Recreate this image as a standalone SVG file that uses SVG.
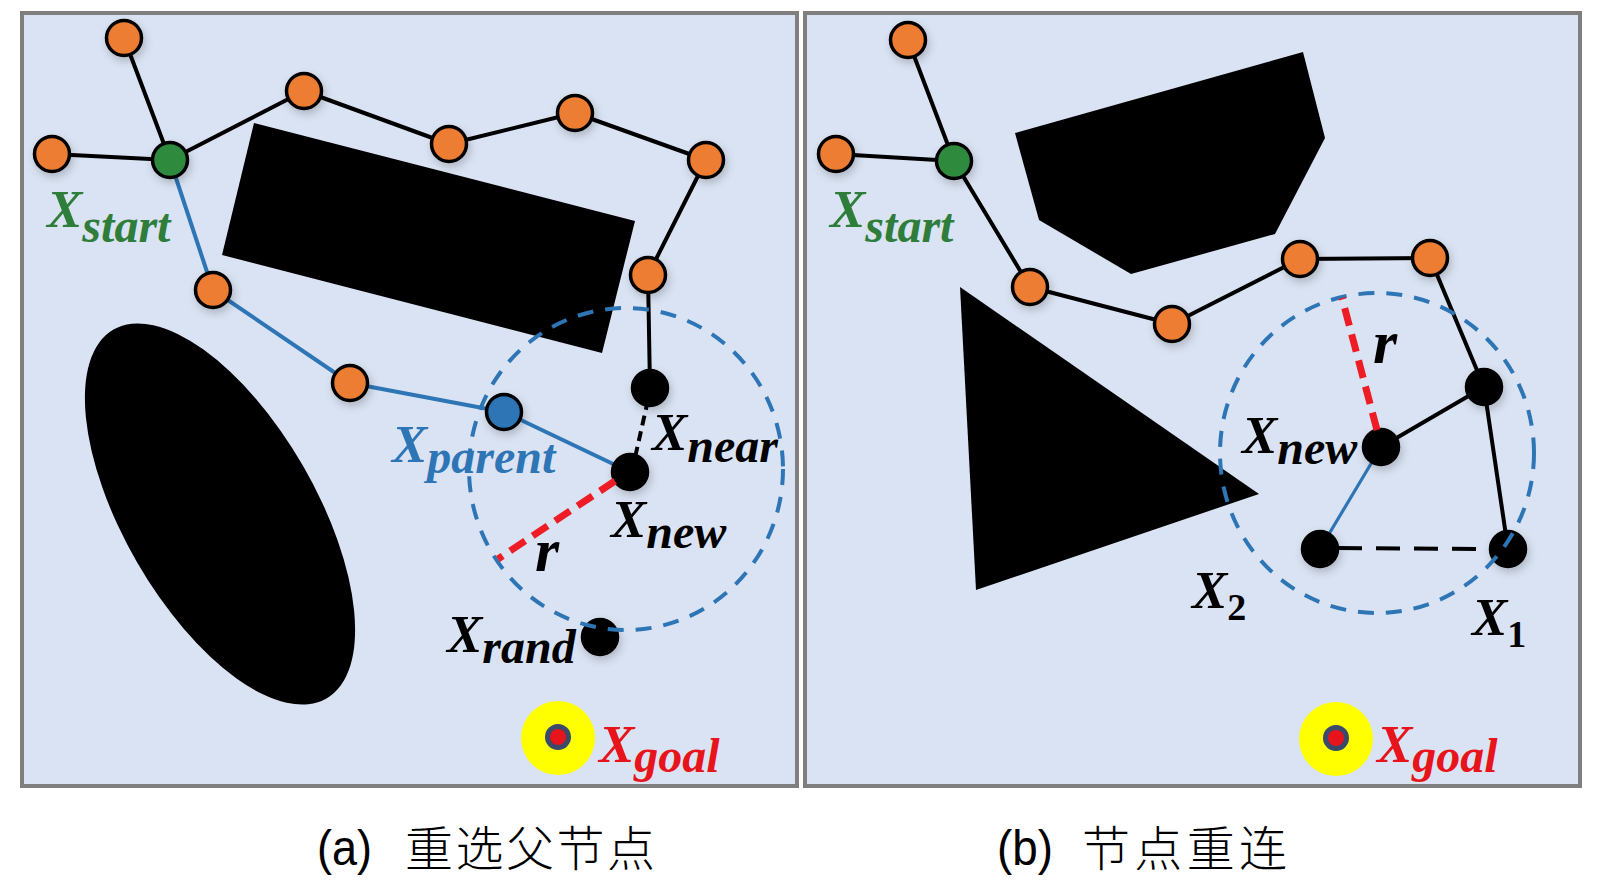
<svg xmlns="http://www.w3.org/2000/svg" width="1600" height="891" viewBox="0 0 1600 891">
<defs>
<filter id="sh" x="-60%" y="-60%" width="220%" height="220%"><feDropShadow dx="2" dy="4" stdDeviation="4" flood-color="#000" flood-opacity="0.2"/></filter>
</defs>
<style>
.frame{fill:#dae3f3;stroke:#7f7f7f;stroke-width:4}
.obs{fill:#000}
.e{stroke:#000;stroke-width:4;fill:none;stroke-linecap:round}
.eb{stroke:#2e75b6;stroke-width:4;fill:none}
.eb2{stroke:#2e75b6;stroke-width:3.2;fill:none}
.ed{stroke:#000;stroke-width:4;stroke-dasharray:10 6;fill:none}
.ed2{stroke:#000;stroke-width:4;stroke-dasharray:24 14;fill:none}
.red{stroke:#ee1c24;stroke-width:7;stroke-dasharray:18 9;fill:none}
.circ{fill:none;stroke:#2e75b6;stroke-width:4;stroke-dasharray:16 12}
.n{stroke:#000;stroke-width:3.5;filter:url(#sh)}
.or{fill:#ed7d31}
.gr{fill:#2e8b3e}
.bl{fill:#2e75b6}
.bk{fill:#000}
.m{font-family:"Liberation Serif",serif;font-style:italic;font-weight:bold;font-size:53px}
.s{font-size:48px}
.d{font-style:normal;font-size:38px}
.rr{font-size:62px}
.cg{fill:#2e7d3a}
.cb{fill:#2e75b6}
.cr{fill:#e8141c}
.ck{fill:#000}
.cap{font-family:"Liberation Sans",sans-serif;font-size:50px;fill:#000}
.zh{font-family:"Noto Sans CJK SC",sans-serif;font-size:48px;font-weight:300;fill:#000}
</style>

<rect fill="#ffffff" x="0" y="0" width="1600" height="891"/>

<g id="panel-a-frame"><rect class="frame" x="22" y="13" width="775" height="773"/></g>
<g id="panel-b-frame"><rect class="frame" x="805" y="13" width="775" height="773"/></g>

<g id="obstacles-a">
<polygon class="obs" points="254,123 635,221 602,353 222,255"/>
<ellipse class="obs" cx="220" cy="514" rx="213" ry="96" transform="rotate(60 220 514)"/>
</g>
<g id="obstacles-b">
<polygon class="obs" points="1015,133 1303,52 1325,138 1275,234 1131,274 1039,220"/>
<polygon class="obs" points="960,287 1259,494 976,590"/>
</g>

<g id="connectors">
<line class="e" x1="124" y1="38" x2="170" y2="160"/>
<line class="e" x1="52" y1="154" x2="170" y2="160"/>
<line class="e" x1="170" y1="160" x2="304" y2="91"/>
<line class="e" x1="304" y1="91" x2="449" y2="144"/>
<line class="e" x1="449" y1="144" x2="575" y2="113"/>
<line class="e" x1="575" y1="113" x2="706" y2="160"/>
<line class="e" x1="706" y1="160" x2="648" y2="275"/>
<line class="e" x1="648" y1="275" x2="650" y2="388"/>
<line class="ed" x1="648" y1="400" x2="634" y2="462"/>
<line class="eb" x1="170" y1="160" x2="213" y2="290"/>
<line class="eb" x1="213" y1="290" x2="350" y2="383"/>
<line class="eb" x1="350" y1="383" x2="504" y2="412"/>
<line class="eb" x1="504" y1="412" x2="630" y2="472"/>

<line class="e" x1="908" y1="40" x2="954" y2="161"/>
<line class="e" x1="836" y1="154" x2="954" y2="161"/>
<line class="e" x1="954" y1="161" x2="1030" y2="287"/>
<line class="e" x1="1030" y1="287" x2="1172" y2="324"/>
<line class="e" x1="1172" y1="324" x2="1300" y2="259"/>
<line class="e" x1="1300" y1="259" x2="1430" y2="258"/>
<line class="e" x1="1430" y1="258" x2="1484" y2="387"/>
<line class="e" x1="1484" y1="387" x2="1381" y2="447"/>
<line class="e" x1="1484" y1="387" x2="1508" y2="549"/>
<line class="eb2" x1="1381" y1="447" x2="1320" y2="549"/>
<line class="ed2" x1="1338" y1="548" x2="1492" y2="549"/>
</g>

<g id="node-a-o1"><circle class="n or" cx="124" cy="38" r="17.5"/></g>
<g id="node-a-o2"><circle class="n or" cx="52" cy="154" r="17.5"/></g>
<g id="node-a-start"><circle class="n gr" cx="170" cy="160" r="17.5"/></g>
<g id="node-a-o3"><circle class="n or" cx="304" cy="91" r="17.5"/></g>
<g id="node-a-o4"><circle class="n or" cx="449" cy="144" r="17.5"/></g>
<g id="node-a-o5"><circle class="n or" cx="575" cy="113" r="17.5"/></g>
<g id="node-a-o6"><circle class="n or" cx="706" cy="160" r="17.5"/></g>
<g id="node-a-o7"><circle class="n or" cx="648" cy="275" r="17.5"/></g>
<g id="node-a-near"><circle class="n bk" cx="650" cy="388" r="17.5"/></g>
<g id="node-a-o8"><circle class="n or" cx="213" cy="290" r="17.5"/></g>
<g id="node-a-o9"><circle class="n or" cx="350" cy="383" r="17.5"/></g>
<g id="node-a-parent"><circle class="n bl" cx="504" cy="412" r="17.5"/></g>
<g id="node-a-new"><circle class="n bk" cx="630" cy="472" r="17.5"/></g>
<g id="node-a-rand"><circle class="n bk" cx="600" cy="637" r="17.5"/></g>
<g id="node-a-goal">
<circle fill="#ffff00" cx="558" cy="738" r="37"/>
<circle fill="#e8141c" stroke="#3b4a6b" stroke-width="5" cx="558" cy="737" r="10.5"/>
</g>

<g id="node-b-o1"><circle class="n or" cx="908" cy="40" r="17.5"/></g>
<g id="node-b-o2"><circle class="n or" cx="836" cy="154" r="17.5"/></g>
<g id="node-b-start"><circle class="n gr" cx="954" cy="161" r="17.5"/></g>
<g id="node-b-o3"><circle class="n or" cx="1030" cy="287" r="17.5"/></g>
<g id="node-b-o4"><circle class="n or" cx="1172" cy="324" r="17.5"/></g>
<g id="node-b-o5"><circle class="n or" cx="1300" cy="259" r="17.5"/></g>
<g id="node-b-o6"><circle class="n or" cx="1430" cy="258" r="17.5"/></g>
<g id="node-b-k1"><circle class="n bk" cx="1484" cy="387" r="17.5"/></g>
<g id="node-b-new"><circle class="n bk" cx="1381" cy="447" r="17.5"/></g>
<g id="node-b-x2"><circle class="n bk" cx="1320" cy="549" r="17.5"/></g>
<g id="node-b-x1"><circle class="n bk" cx="1508" cy="549" r="17.5"/></g>
<g id="node-b-goal">
<circle fill="#ffff00" cx="1336" cy="739" r="37"/>
<circle fill="#e8141c" stroke="#3b4a6b" stroke-width="5" cx="1336" cy="738" r="10.5"/>
</g>

<g id="radius-a">
<ellipse class="circ" cx="626" cy="469" rx="157" ry="161"/>
<line class="red" x1="615" y1="481" x2="498" y2="559"/>
</g>
<g id="radius-b">
<ellipse class="circ" cx="1377" cy="453" rx="157" ry="160"/>
<line class="red" x1="1377" y1="430" x2="1342" y2="298"/>
</g>

<g id="labels-a">
<text class="m cg" x="47" y="227">X<tspan class="s" dy="15">start</tspan></text>
<text class="m cb" x="392" y="462">X<tspan class="s" dy="11">parent</tspan></text>
<text class="m ck" x="652" y="450">X<tspan class="s" dy="12">near</tspan></text>
<text class="m ck" x="611" y="537">X<tspan class="s" dy="11">new</tspan></text>
<text class="m ck rr" x="535" y="571">r</text>
<text class="m ck" x="447" y="652">X<tspan class="s" dy="11">rand</tspan></text>
<text class="m cr" x="599" y="762">X<tspan class="s" dy="10">goal</tspan></text>
</g>
<g id="labels-b">
<text class="m cg" x="830" y="227">X<tspan class="s" dy="15">start</tspan></text>
<text class="m ck" x="1242" y="453">X<tspan class="s" dy="11">new</tspan></text>
<text class="m ck rr" x="1373" y="363">r</text>
<text class="m ck" x="1192" y="608">X<tspan class="d" dy="12">2</tspan></text>
<text class="m ck" x="1472" y="635">X<tspan class="d" dy="12">1</tspan></text>
<text class="m cr" x="1377" y="762">X<tspan class="s" dy="10">goal</tspan></text>
</g>

<g id="captions">
<text class="cap" x="317" y="865" textLength="55" lengthAdjust="spacingAndGlyphs">(a)</text>
<text class="zh" x="405" y="866" textLength="250" lengthAdjust="spacing">重选父节点</text>
<text class="cap" x="997" y="865" textLength="56" lengthAdjust="spacingAndGlyphs">(b)</text>
<text class="zh" x="1082" y="866" textLength="205" lengthAdjust="spacing">节点重连</text>
</g>
</svg>
